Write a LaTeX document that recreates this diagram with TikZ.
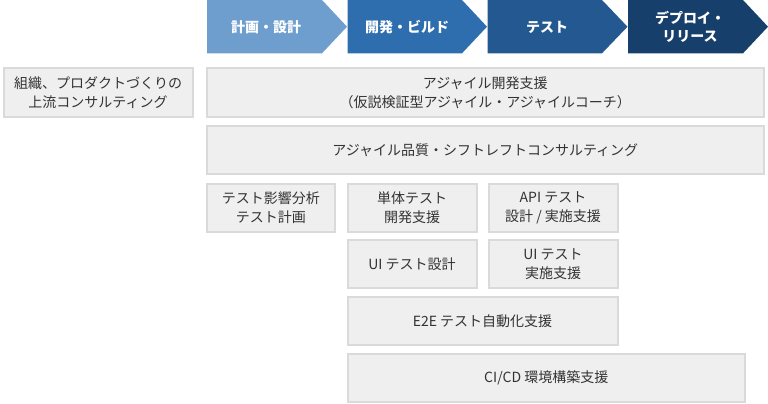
\documentclass[tikz,border=0pt]{standalone}
\usepackage{fontspec}
\setmainfont{Noto Sans CJK JP}
\definecolor{fase1}{HTML}{6E9ECE}
\definecolor{fase2}{HTML}{2F6EAE}
\definecolor{fase3}{HTML}{245890}
\definecolor{fase4}{HTML}{173F6B}
\definecolor{cajafondo}{HTML}{EFEFEF}
\definecolor{cajaborde}{HTML}{DADADA}
\definecolor{texto}{HTML}{333333}

\tikzstyle{caja}= [rectangle,draw=cajaborde,fill=cajafondo,line width=2pt,minimum height=48pt,inner sep=0pt,align=center,text=texto,font=\fontsize{14pt}{19pt}\selectfont]
\tikzstyle{fase}= [align=center,text=white,font=\bfseries\fontsize{14pt}{18pt}\selectfont]

\begin{document}
\begin{tikzpicture}[x=1pt,y=-1pt]
		\useasboundingbox (0,0) rectangle (768,404);

		\fill[fase1] (207,0) -- (322,0) -- (347,26.7) -- (322,53.3) -- (207,53.3) -- cycle;
		\fill[fase2] (347.5,0) -- (462,0) -- (487,26.7) -- (462,53.3) -- (347.5,53.3) -- cycle;
		\fill[fase3] (487.5,0) -- (602,0) -- (627.5,26.7) -- (602,53.3) -- (487.5,53.3) -- cycle;
		\fill[fase4] (628,0) -- (743,0) -- (768,26.7) -- (743,53.3) -- (628,53.3) -- cycle;

		\node (p1) at (266,27) [fase] {計画・設計};
		\node (p2) at (407,27) [fase] {開発・ビルド};
		\node (p3) at (547,27) [fase] {テスト};
		\node (p4) at (690,27) [fase] {デプロイ・\\リリース};

		\node (a) at (98,92.5) [caja,minimum width=189pt] {組織、プロダクトづくりの\\上流コンサルティング};
		\node (b) at (485.25,92.5) [caja,minimum width=557.5pt] {アジャイル開発支援\\（仮説検証型アジャイル・アジャイルコーチ）};
		\node (c) at (485.25,150) [caja,minimum width=557.5pt] {アジャイル品質・シフトレフトコンサルティング};

		\node (d) at (270.75,207.5) [caja,minimum width=128.5pt] {テスト影響分析\\テスト計画};
		\node (e) at (412,207.5) [caja,minimum width=129pt] {単体テスト\\開発支援};
		\node (f) at (553,207.5) [caja,minimum width=129pt] {API テスト\\設計 / 実施支援};

		\node (g) at (412,264) [caja,minimum width=129pt] {UI テスト設計};
		\node (h) at (553,264) [caja,minimum width=129pt] {UI テスト\\実施支援};

		\node (i) at (482.5,321.25) [caja,minimum width=270pt] {E2E テスト自動化支援};
		\node (j) at (546.25,377.5) [caja,minimum width=397.5pt] {CI/CD 環境構築支援};

	\end{tikzpicture}
\end{document}
